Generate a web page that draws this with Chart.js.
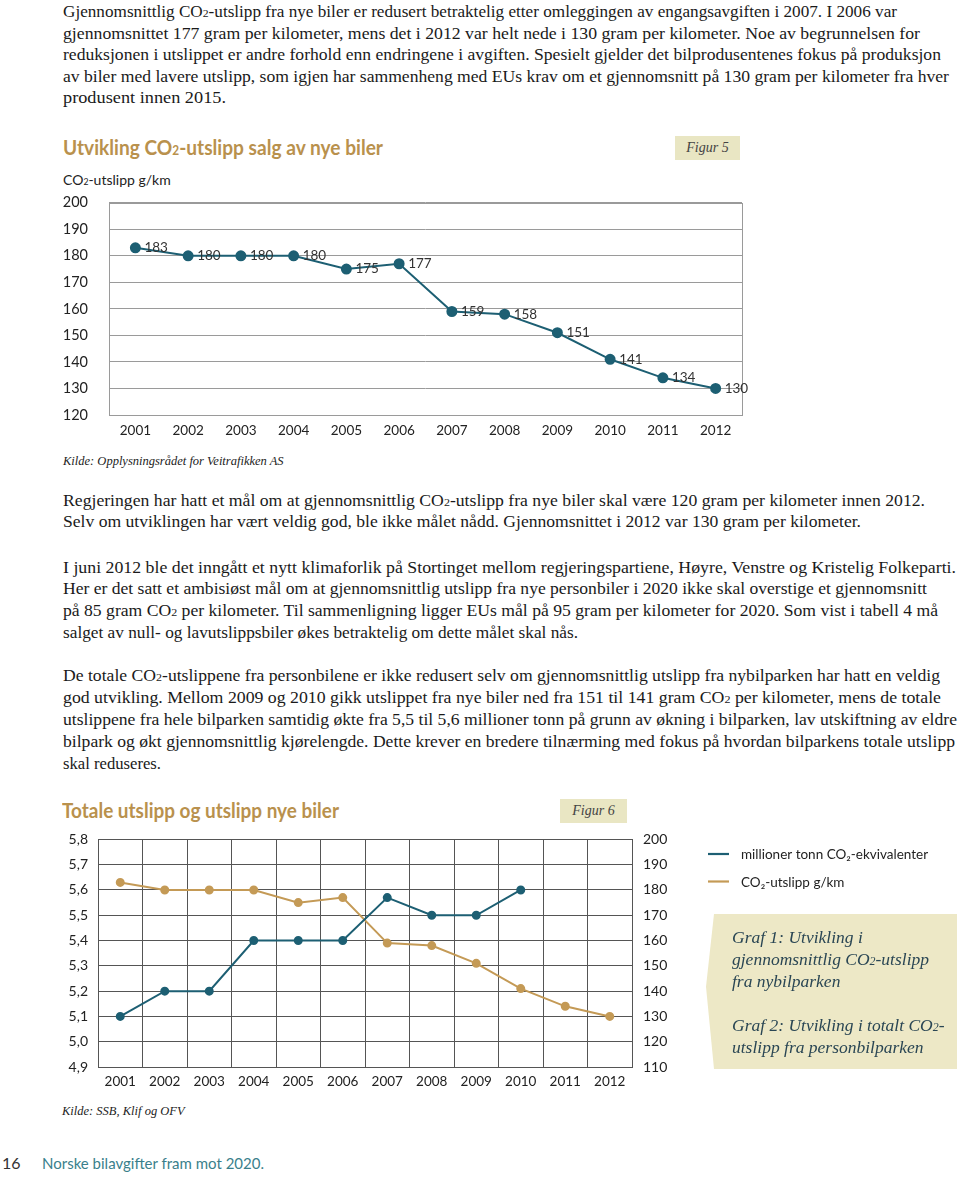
<!DOCTYPE html>
<html>
<head>
<meta charset="utf-8">
<script src="https://cdn.jsdelivr.net/npm/chart.js@4.4.1/dist/chart.umd.min.js"></script>
<style>
  html,body{margin:0;padding:0;background:#fff;}
  body{width:960px;height:1178px;position:relative;overflow:hidden;}
  .ln{position:absolute;left:63px;white-space:nowrap;font-family:"Liberation Serif",serif;font-size:16.5px;color:#1a1a1a;line-height:20px;transform-origin:0 50%;}
  .s2{font-size:0.68em;}
  .title{position:absolute;font-family:Lato,"Open Sans",sans-serif;font-weight:bold;color:#b9914d;font-size:20px;white-space:nowrap;line-height:22px;transform-origin:0 50%;}
  .fig{position:absolute;background:#e9e6c3;font-family:"Liberation Serif",serif;font-style:italic;font-size:14px;color:#444;text-align:center;line-height:24px;}
  .kilde{position:absolute;font-family:"Liberation Serif",serif;font-style:italic;font-size:12.5px;color:#222;white-space:nowrap;line-height:16px;}
  .sans{position:absolute;font-family:Lato,"Open Sans",sans-serif;white-space:nowrap;}
  canvas{position:absolute;left:0;}
  #box{position:absolute;left:706px;top:914px;width:251px;height:155px;background:#ede8c6;clip-path:polygon(8px 0,100% 0,100% 100%,8px 100%,0 47%);}
  .bl{position:absolute;left:732px;white-space:nowrap;font-family:"Liberation Serif",serif;font-style:italic;font-size:17.5px;color:#2a4654;line-height:22px;transform-origin:0 50%;}
</style>
</head>
<body>
<div class="ln" data-r="897" style="top:2px">Gjennomsnittlig CO<span class="s2">2</span>-utslipp fra nye biler er redusert betraktelig etter omleggingen av engangsavgiften i 2007. I 2006 var</div>
<div class="ln" data-r="920" style="top:24px">gjennomsnittet 177 gram per kilometer, mens det i 2012 var helt nede i 130 gram per kilometer. Noe av begrunnelsen for</div>
<div class="ln" data-r="941" style="top:45px">reduksjonen i utslippet er andre forhold enn endringene i avgiften. Spesielt gjelder det bilprodusentenes fokus på produksjon</div>
<div class="ln" data-r="949" style="top:67px">av biler med lavere utslipp, som igjen har sammenheng med EUs krav om et gjennomsnitt på 130 gram per kilometer fra hver</div>
<div class="ln" data-r="226" style="top:88px">produsent innen 2015.</div>

<div class="title" data-r="383" style="left:63px;top:136px">Utvikling CO<span style="font-size:0.62em">2</span>-utslipp salg av nye biler</div>
<div class="fig" style="left:675px;top:136px;width:65px;height:24px;">Figur 5</div>
<div class="sans" style="left:63px;top:171px;font-size:14px;color:#222;">CO<span style="font-size:0.62em">2</span>-utslipp g/km</div>
<canvas id="c1" width="960" height="277" style="top:173px;width:960px;height:277px;"></canvas>
<div class="kilde" style="left:63px;top:453px">Kilde: Opplysningsrådet for Veitrafikken AS</div>

<div class="ln" data-r="925" style="top:491px">Regjeringen har hatt et mål om at gjennomsnittlig CO<span class="s2">2</span>-utslipp fra nye biler skal være 120 gram per kilometer innen 2012.</div>
<div class="ln" data-r="861" style="top:512px">Selv om utviklingen har vært veldig god, ble ikke målet nådd. Gjennomsnittet i 2012 var 130 gram per kilometer.</div>

<div class="ln" data-r="956" style="top:558px">I juni 2012 ble det inngått et nytt klimaforlik på Stortinget mellom regjeringspartiene, Høyre, Venstre og Kristelig Folkeparti.</div>
<div class="ln" data-r="927" style="top:579px">Her er det satt et ambisiøst mål om at gjennomsnittlig utslipp fra nye personbiler i 2020 ikke skal overstige et gjennomsnitt</div>
<div class="ln" data-r="938" style="top:601px">på 85 gram CO<span class="s2">2</span> per kilometer. Til sammenligning ligger EUs mål på 95 gram per kilometer for 2020. Som vist i tabell 4 må</div>
<div class="ln" data-r="578" style="top:623px">salget av null- og lavutslippsbiler økes betraktelig om dette målet skal nås.</div>

<div class="ln" data-r="940" style="top:666px">De totale CO<span class="s2">2</span>-utslippene fra personbilene er ikke redusert selv om gjennomsnittlig utslipp fra nybilparken har hatt en veldig</div>
<div class="ln" data-r="941" style="top:688px">god utvikling. Mellom 2009 og 2010 gikk utslippet fra nye biler ned fra 151 til 141 gram CO<span class="s2">2</span> per kilometer, mens de totale</div>
<div class="ln" data-r="957" style="top:710px">utslippene fra hele bilparken samtidig økte fra 5,5 til 5,6 millioner tonn på grunn av økning i bilparken, lav utskiftning av eldre</div>
<div class="ln" data-r="955" style="top:732px">bilpark og økt gjennomsnittlig kjørelengde. Dette krever en bredere tilnærming med fokus på hvordan bilparkens totale utslipp</div>
<div class="ln" data-r="161" style="top:754px">skal reduseres.</div>

<div class="title" data-r="339" style="left:62px;top:799px">Totale utslipp og utslipp nye biler</div>
<div class="fig" style="left:560px;top:799px;width:67px;height:24px;">Figur 6</div>
<canvas id="c2" width="960" height="280" style="top:820px;width:960px;height:280px;"></canvas>
<div id="box"></div>
<div class="bl" style="top:926px">Graf 1: Utvikling i</div>
<div class="bl" style="top:948px">gjennomsnittlig CO<span class="s2">2</span>-utslipp</div>
<div class="bl" style="top:970px">fra nybilparken</div>
<div class="bl" style="top:1014px">Graf 2: Utvikling i totalt CO<span class="s2">2</span>-</div>
<div class="bl" style="top:1036px">utslipp fra personbilparken</div>
<div class="kilde" style="left:62px;top:1103px">Kilde: SSB, Klif og OFV</div>

<div class="sans" style="left:2px;top:1153px;font-size:16px;color:#333;">16</div>
<div class="sans" style="left:42px;top:1154px;font-size:15px;color:#3a7f8c;">Norske bilavgifter fram mot 2020.</div>

<script>
// ---------- DATA ----------
const years = ['2001','2002','2003','2004','2005','2006','2007','2008','2009','2010','2011','2012'];
const newCarGkm = [183,180,180,180,175,177,159,158,151,141,134,130];
const totalMillionTonnes = [5.1,5.2,5.2,5.4,5.4,5.4,5.57,5.5,5.5,5.6,null,null];
const gkmSeries = [183,180,180,180,175,177,159,158,151,141,134,130];
const seriesLabels = ['millioner tonn CO₂-ekvivalenter','CO₂-utslipp g/km'];

// ---------- fit text lines ----------
document.querySelectorAll('[data-r]').forEach(el=>{
  const left = parseFloat(getComputedStyle(el).left);
  const target = parseFloat(el.dataset.r) - left;
  const w = el.getBoundingClientRect().width;
  if (w>0) el.style.transform = 'scaleX(' + (target/w) + ')';
});

const TEAL = '#1d5f73';
const GOLD = '#c49a56';
const SANS = 'Lato, "Open Sans", sans-serif';

const boxPlugin = (color)=>({
  id:'box',
  beforeDatasetsDraw(chart){
    const {ctx, chartArea:a} = chart;
    ctx.save(); ctx.strokeStyle=color; ctx.lineWidth=1;
    ctx.strokeRect(Math.round(a.left)+0.5, Math.round(a.top)+0.5, Math.round(a.right-a.left), Math.round(a.bottom-a.top));
    ctx.restore();
  }
});

const labelPlugin = {
  id:'labels',
  afterDatasetsDraw(chart){
    const {ctx} = chart;
    const meta = chart.getDatasetMeta(0);
    ctx.save();
    ctx.font = '13.5px ' + SANS; ctx.fillStyle='#333'; ctx.textBaseline='middle'; ctx.textAlign='left';
    meta.data.forEach((p,i)=>{
      ctx.fillText(String(chart.data.datasets[0].data[i]), p.x+9, p.y);
    });
    ctx.restore();
  }
};

new Chart(document.getElementById('c1'), {
  type:'line',
  data:{labels:years, datasets:[{data:newCarGkm, borderColor:TEAL, backgroundColor:TEAL, borderWidth:2, pointRadius:4.5, pointHoverRadius:4.5, tension:0}]},
  options:{
    responsive:false, animation:false,
    layout:{padding:{top:11, right:218, bottom:0, left:0}},
    plugins:{legend:{display:false}, tooltip:{enabled:false}},
    scales:{
      x:{offset:true, grid:{display:false, drawTicks:false}, border:{display:false},
         ticks:{color:'#222', font:{family:SANS, size:13.5}, padding:8, maxRotation:0},
         afterFit(s){s.height=35;}},
      y:{min:120, max:200, grid:{color:'#9a9a9a', drawTicks:false, lineWidth:1}, border:{display:false},
         ticks:{stepSize:10, color:'#222', font:{family:SANS, size:14.5}, padding:21},
         afterFit(s){s.width=109;}}
    }
  },
  plugins:[boxPlugin('#9a9a9a'), labelPlugin]
});

const legendPlugin = {
  id:'legend2',
  afterDraw(chart){
    const {ctx} = chart;
    ctx.save();
    ctx.font = '13.5px ' + SANS; ctx.textBaseline='middle'; ctx.fillStyle='#222';
    chart.data.datasets.forEach((d,i)=>{
      const y = 34 + i*27.5;
      ctx.strokeStyle = d.borderColor; ctx.lineWidth=2.2;
      ctx.beginPath(); ctx.moveTo(708,y); ctx.lineTo(729,y); ctx.stroke();
      ctx.fillText(d.label, 741, y+1);
    });
    ctx.restore();
  }
};

new Chart(document.getElementById('c2'), {
  type:'line',
  data:{labels:years, datasets:[
    {label:seriesLabels[0], data:totalMillionTonnes, yAxisID:'y', borderColor:TEAL, backgroundColor:TEAL, borderWidth:2, pointRadius:3.5, pointHoverRadius:3.5, tension:0},
    {label:seriesLabels[1], data:gkmSeries, yAxisID:'y2', borderColor:GOLD, backgroundColor:GOLD, borderWidth:2, pointRadius:3.5, pointHoverRadius:3.5, tension:0}
  ]},
  options:{
    responsive:false, animation:false,
    layout:{padding:{top:9, right:260, bottom:0, left:0}},
    plugins:{legend:{display:false}, tooltip:{enabled:false}},
    scales:{
      x:{offset:true, grid:{offset:true, color:'#555', drawTicks:false, lineWidth:1}, border:{display:false},
         ticks:{color:'#222', font:{family:SANS, size:13.5}, padding:7, maxRotation:0},
         afterFit(s){s.height=33;}},
      y:{position:'left', min:4.9, max:5.8, grid:{color:'#555', drawTicks:false, lineWidth:1}, border:{display:false},
         ticks:{stepSize:0.1, color:'#222', font:{family:SANS, size:14}, padding:10,
                callback:v=>v.toFixed(1).replace('.',',')},
         afterFit(s){s.width=98;}},
      y2:{position:'right', min:110, max:200, grid:{display:false, drawTicks:false}, border:{display:false},
         ticks:{stepSize:10, color:'#222', font:{family:SANS, size:14}, padding:11},
         afterFit(s){s.width=68;}}
    }
  },
  plugins:[boxPlugin('#555'), legendPlugin]
});
</script>
</body>
</html>
